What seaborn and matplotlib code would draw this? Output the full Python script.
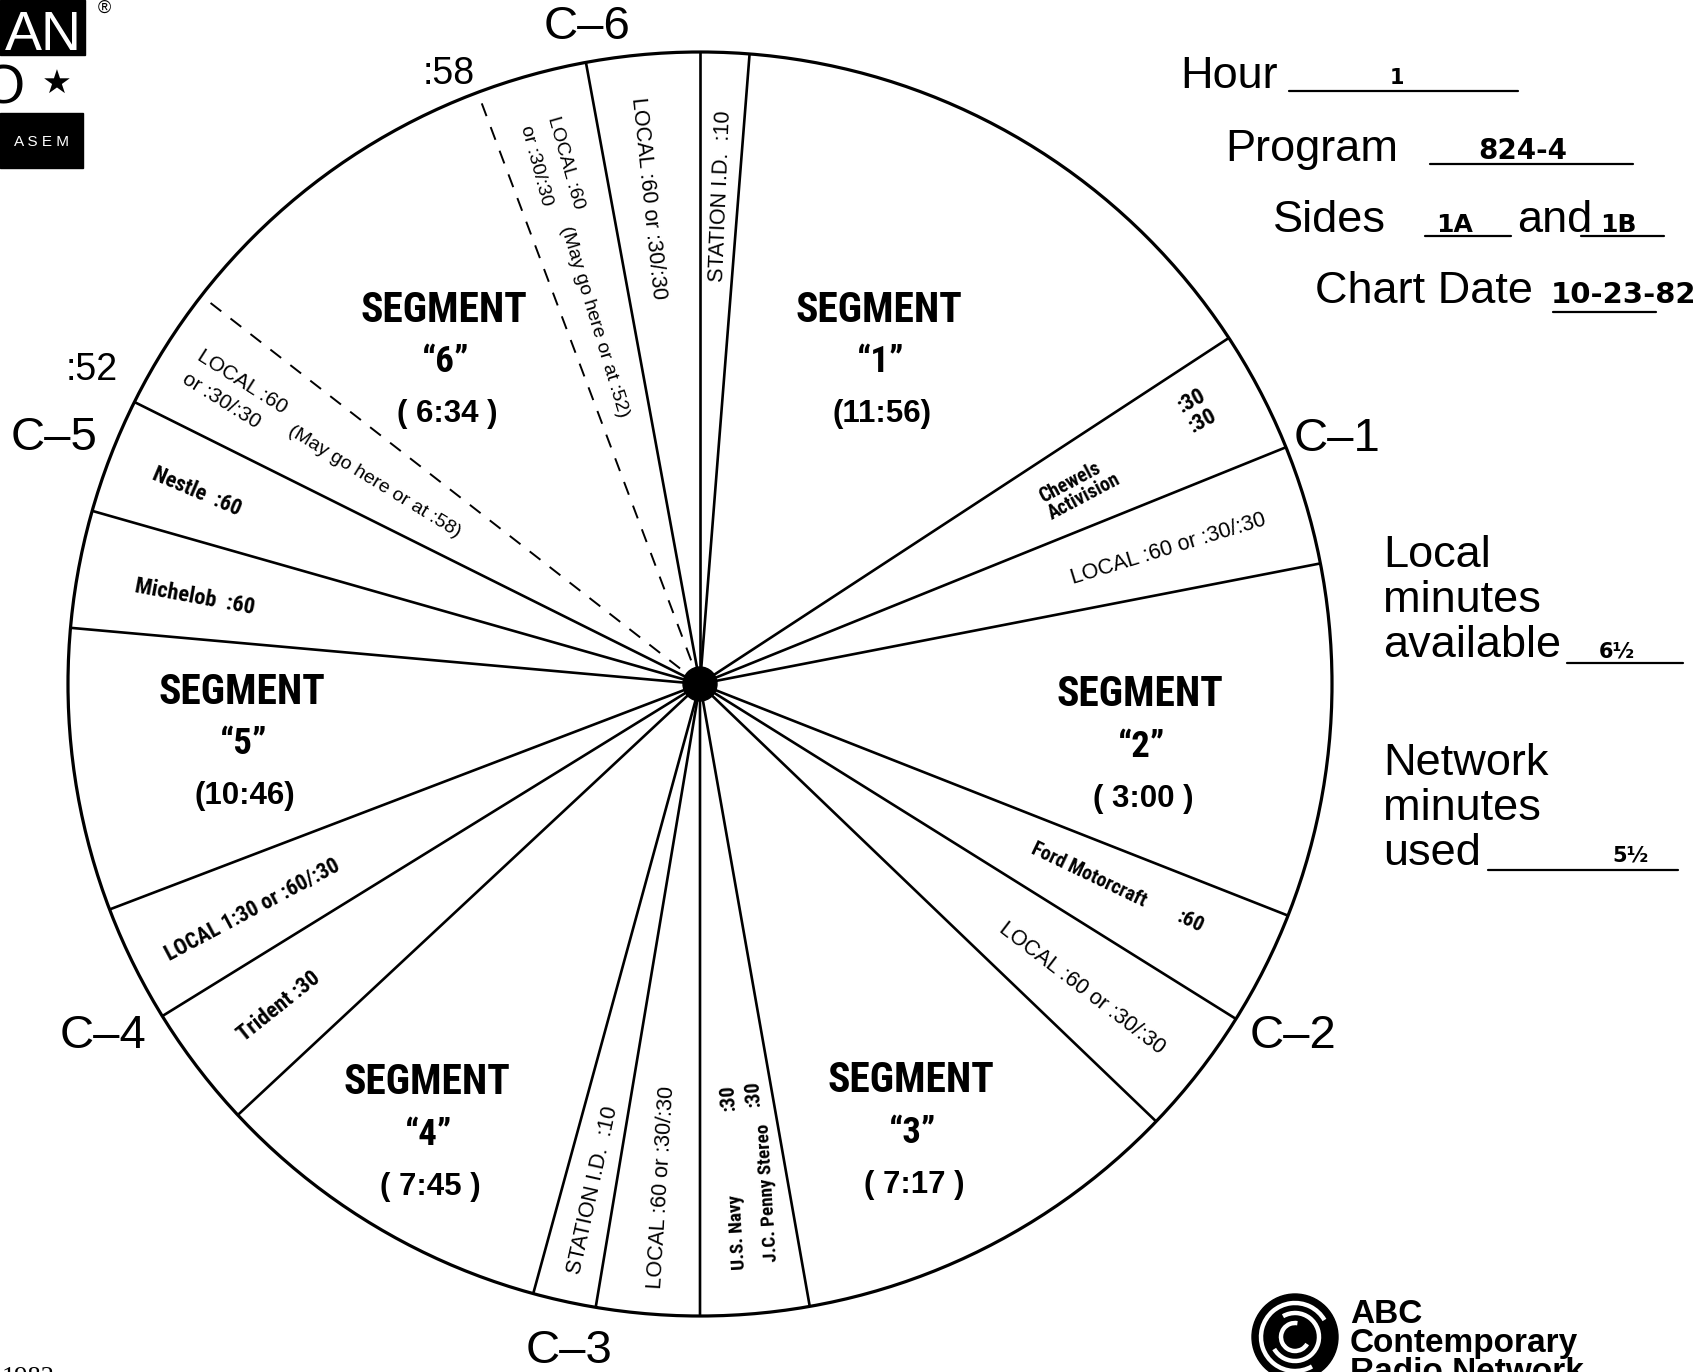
import numpy as np
import matplotlib
matplotlib.use("Agg")
import matplotlib.pyplot as plt
from matplotlib.patches import Circle, Rectangle, Arc
from matplotlib import font_manager
import seaborn as sns

W, H = 1695, 1372

# ---------------- data ----------------
slot_names = ["STATION I.D. :10", "SEGMENT 1", "Chewels / Activision", "LOCAL", "SEGMENT 2",
              "Ford Motorcraft", "LOCAL", "SEGMENT 3", "U.S. Navy / J.C. Penny Stereo", "LOCAL",
              "STATION I.D. :10", "SEGMENT 4", "Trident", "LOCAL 1:30", "SEGMENT 5",
              "Michelob", "Nestle", "LOCAL (optional)", "SEGMENT 6", "LOCAL (optional)", "LOCAL"]
slot_degrees = [4.5, 52.3, 11.2, 11.0, 32.5, 10.5, 11.8, 36.2, 10.0, 9.5, 5.8,
                31.7, 11.3, 10.8, 26.0, 10.8, 10.6, 11.4, 31.5, 10.2, 10.4]
slot_optional_edge = [False] * 18 + [True, True, False]

segment_titles = ["SEGMENT"] * 6
segment_numbers = ["\u201c1\u201d", "\u201c2\u201d", "\u201c3\u201d", "\u201c4\u201d", "\u201c5\u201d", "\u201c6\u201d"]
segment_lengths = ["(11:56)", "( 3:00 )", "( 7:17 )", "( 7:45 )", "(10:46)", "( 6:34 )"]

clock_marks = ["C\u20136", ":58", ":52", "C\u20135", "C\u20131", "C\u20132", "C\u20134", "C\u20133"]

spot_texts = ["STATION I.D.  :10", "LOCAL :60 or :30/:30", "LOCAL :60", "(May go here or at :52)",
              "or :30/:30", "Chewels\nActivision", ":30\n:30", "LOCAL :60 or :30/:30",
              "Ford Motorcraft", ":60", "LOCAL :60 or :30/:30", "U.S. Navy", "J.C. Penny Stereo",
              ":30", ":30", "LOCAL :60 or :30/:30", "STATION I.D.  :10", "Trident :30",
              "LOCAL 1:30 or :60/:30", "Michelob  :60", "Nestle  :60", "LOCAL :60",
              "(May go here or at :58)", "or :30/:30"]

form_labels = ["Hour", "Program", "Sides", "and", "Chart Date"]
form_values = ["1", "824-4", "1A", "1B", "10-23-82"]
minutes_labels = [["Local", "minutes", "available"], ["Network", "minutes", "used"]]
minutes_values = ["6\u00bd", "5\u00bd"]
network_name = ["ABC", "Contemporary", "Radio Network"]

# ---------------- layout / style ----------------
CX, CY_PX, R = 700, 684, 632
seg_pos = [(879, 310), (1140, 695), (911, 1081), (427, 1083), (242, 692), (444, 310)]
seg_gap = [52, 104]
mark_pos = [(587, 27), (449, 74), (92, 370), (54, 438), (1337, 439), (1293, 1036), (103, 1036), (569, 1351)]
mark_size = [34, 27, 27, 34, 34, 34, 34, 34]
# x, y, rotation, size, style ('r' regular, 'n' narrow bold)
spot_layout = [(721, 196, 87.7, 15.5, "r"), (648, 198, -84.0, 15.5, "r"), (566, 163, -74.0, 14, "r"),
               (594, 322, -73.0, 14, "r"), (536, 166, -75.0, 14, "r"), (1080, 488, 28.0, 15, "n"),
               (1197, 411, 28.0, 17, "n"), (1168, 549, 17.0, 15.5, "r"), (1089, 875, -25.5, 15, "n"),
               (1190, 922, -25.5, 16, "n"), (1082, 988, -37.5, 15.5, "r"), (738, 1232, 93.5, 14.5, "n"),
               (768, 1193, 93.5, 14.5, "n"), (728, 1097, 93.5, 15.5, "n"), (753, 1093, 93.5, 15.5, "n"),
               (662, 1187, 86.5, 15.5, "r"), (593, 1190, 77.5, 15.5, "r"), (279, 1006, 38.5, 17, "n"),
               (253, 910, 28.0, 16.5, "n"), (195, 597, -10.5, 17, "n"), (197, 492, -23.0, 16.5, "n"),
               (242, 382, -32.5, 15, "r"), (374, 482, -31.5, 14, "r"), (221, 401, -32.0, 15, "r")]

sns.set_theme(style="white")
names = {f.name for f in font_manager.fontManager.ttflist}
if "Liberation Sans Narrow" in names:
    NARROW, NS = "Liberation Sans Narrow", 1.0
elif "Roboto Condensed" in names:
    NARROW, NS = "Roboto Condensed", 0.95
else:
    NARROW, NS = "Liberation Sans", 0.82
plt.rcParams["font.family"] = ["Liberation Sans", "DejaVu Sans"]

fig = plt.figure(figsize=(W / 100, H / 100), dpi=100)
fig.patch.set_facecolor("white")
ax = fig.add_axes([0, 0, 1, 1])
CY = H - CY_PX

wedges, _ = ax.pie(slot_degrees, startangle=90, counterclock=False, center=(CX, CY), radius=R,
                   colors=["white"] * len(slot_degrees), wedgeprops=dict(linewidth=0))
ax.set_xlim(0, W)
ax.set_ylim(0, H)
ax.set_aspect("equal")
ax.axis("off")

ax.add_patch(Circle((CX, CY), R, fill=False, ec="black", lw=2.3, zorder=3))
for w, dashed in zip(wedges, slot_optional_edge):
    a = np.deg2rad(w.theta2)
    ax.plot([CX, CX + R * np.cos(a)], [CY, CY + R * np.sin(a)], color="black",
            lw=1.4 if dashed else 1.9, ls=(0, (7, 6)) if dashed else "-", zorder=3,
            solid_capstyle="butt")
ax.add_patch(Circle((CX, CY), 17, color="black", zorder=5))


def put(x, y, s, **kw):
    kw.setdefault("ha", "center")
    kw.setdefault("va", "center")
    kw.setdefault("color", "black")
    return ax.text(x, H - y, s, **kw)


for (x, y), t, n, d in zip(seg_pos, segment_titles, segment_numbers, segment_lengths):
    put(x, y, t, family=NARROW, fontweight="bold", fontsize=31.5 * NS)
    put(x + 2, y + seg_gap[0], n, family=NARROW, fontweight="bold", fontsize=28 * NS)
    put(x + 3, y + seg_gap[1], d, family="Liberation Sans", fontweight="bold", fontsize=22.5)

for (x, y), s, fs in zip(mark_pos, clock_marks, mark_size):
    put(x, y, s, fontsize=fs)

for s, (x, y, rot, fs, st) in zip(spot_texts, spot_layout):
    if st == "n":
        put(x, y, s, rotation=rot, rotation_mode="anchor", family=NARROW, fontweight="bold",
            fontsize=fs * NS, multialignment="right" if s.startswith(":") else "left", linespacing=1.0)
    else:
        put(x, y, s, rotation=rot, rotation_mode="anchor", fontsize=fs)

# ---------------- form on the right ----------------
BIG = 32.5
label_xy = [(1180, 88), (1225, 161), (1273, 232), (1517, 232), (1315, 303)]
for s, (x, y) in zip(form_labels, label_xy):
    put(x, y, s, ha="left", va="baseline", fontsize=BIG)
underlines = [(1289, 1518, 91), (1430, 1633, 164), (1425, 1511, 236), (1581, 1664, 236), (1553, 1656, 312),
              (1567, 1683, 663), (1488, 1678, 870)]
for x0, x1, y in underlines:
    ax.plot([x0, x1], [H - y, H - y], color="black", lw=1.6)
value_xy = [(1397, 84, "center", 15), (1523, 159, "center", 20), (1455, 232, "center", 18),
            (1618, 232, "center", 18), (1551, 303, "left", 21)]
for s, (x, y, ha, fs) in zip(form_values, value_xy):
    put(x, y, s, ha=ha, va="baseline", family="DejaVu Sans", fontweight="heavy", fontsize=fs)

for block, y0 in zip(minutes_labels, [567, 775]):
    for i, s in enumerate(block):
        put(1383, y0 + 45 * i, s, ha="left", va="baseline", fontsize=BIG)
for s, (x, y) in zip(minutes_values, [(1617, 658), (1630, 861)]):
    put(x, y, s, va="baseline", family="DejaVu Sans", fontweight="heavy", fontsize=15)

# ---------------- logos ----------------
ax.add_patch(Rectangle((0, H - 55), 85, 55, color="black"))
put(82, 50, "AN", ha="right", va="baseline", color="white", fontsize=40)
put(25, 103, "O", ha="right", va="baseline", fontsize=40)
put(57, 84, "\u2605", family="DejaVu Sans", fontsize=24)
ax.add_patch(Rectangle((0, H - 168), 83, 55, color="black"))
put(41, 142, "A S E M", color="white", fontsize=11)
put(104, 8, "\u00ae", fontsize=13)
put(2, 1384, "1982", ha="left", va="baseline", family="Liberation Serif", fontsize=19)

lx, ly = 1295, H - 1337
ax.add_patch(Circle((lx, ly), 43, color="black"))
for rr, t1, t2 in [(34, 30, 300), (24, 210, 480), (14, 80, 330)]:
    ax.add_patch(Arc((lx, ly), 2 * rr, 2 * rr, theta1=t1, theta2=t2, color="white", lw=3.2))
ax.add_patch(Circle((lx, ly), 6, color="black"))
for i, s in enumerate(network_name):
    put(1350, 1323 + 29 * i, s, ha="left", va="baseline", fontweight="bold", fontsize=24)

fig.savefig("out.png", dpi=100, facecolor="white")
